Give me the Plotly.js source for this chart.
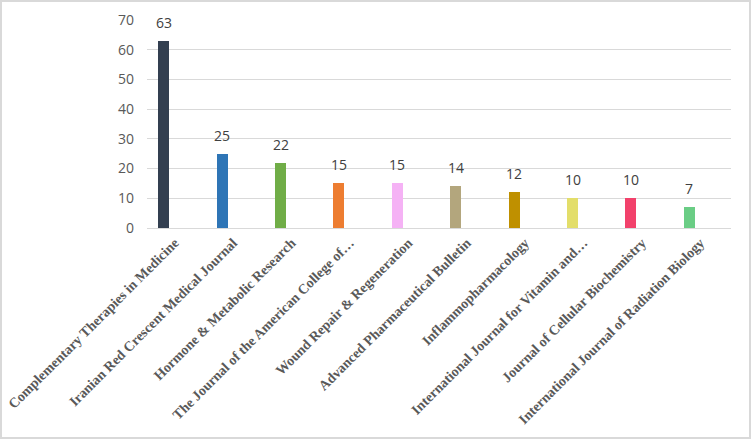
<!DOCTYPE html>
<html>
<head>
<meta charset="utf-8">
<script src="https://cdn.plot.ly/plotly-3.0.1.min.js"></script>
<style>
  html, body { margin: 0; padding: 0; background: #fff; }
  #chart { width: 751px; height: 439px; box-sizing: border-box; border: 2px solid #d9d9d9; }
</style>
</head>
<body>
<div id="chart"></div>
<script>
// Journals and publication counts
const journals = [
  "Complementary Therapies in Medicine",
  "Iranian Red Crescent Medical Journal",
  "Hormone & Metabolic Research",
  "The Journal of the American College of…",
  "Wound Repair & Regeneration",
  "Advanced Pharmaceutical Bulletin",
  "Inflammopharmacology",
  "International Journal for Vitamin and…",
  "Journal of Cellular Biochemistry",
  "International Journal of Radiation Biology"
];
const counts = [63, 25, 22, 15, 15, 14, 12, 10, 10, 7];
const barColors = [
  "#333f50", "#2e75b6", "#70ad47", "#ed7d31", "#f5b2f5",
  "#b3a67d", "#bf9000", "#e3de6a", "#f2416b", "#6acd85"
];
const yTicks = [0, 10, 20, 30, 40, 50, 60, 70];

const trace = {
  type: 'bar',
  x: journals,
  y: counts,
  width: 0.19,
  marker: { color: barColors },
  hoverinfo: 'x+y'
};

// value labels above each bar
const valueLabels = journals.map((j, i) => ({
  x: j,
  y: counts[i],
  text: String(counts[i]),
  showarrow: false,
  yanchor: 'bottom',
  yshift: 7,
  font: { family: 'Open Sans, sans-serif', size: 14, color: '#404040' }
}));

const layout = {
  width: 747,
  height: 435,
  margin: { t: 18, b: 209, l: 145, r: 18 },
  paper_bgcolor: '#fff',
  plot_bgcolor: '#fff',
  showlegend: false,
  bargap: 0,
  annotations: valueLabels,
  xaxis: {
    type: 'category',
    range: [-0.286, 9.714],
    tickangle: -45,
    automargin: false,
    showgrid: false,
    showline: false,
    zeroline: false,
    ticks: '',
    ticklabelshift: 11,
    ticklabelstandoff: 3,
    tickfont: { family: 'Liberation Serif, serif', size: 14, color: '#595959', weight: 'bold' }
  },
  yaxis: {
    range: [0, 70],
    tickvals: yTicks,
    automargin: false,
    showgrid: true,
    gridcolor: '#d9d9d9',
    gridwidth: 1,
    zeroline: true,
    zerolinecolor: '#d9d9d9',
    zerolinewidth: 1,
    showline: false,
    ticks: '',
    ticklabelstandoff: 12,
    tickfont: { family: 'Open Sans, sans-serif', size: 14, color: '#595959' }
  }
};

Plotly.newPlot('chart', [trace], layout, { displayModeBar: false, staticPlot: true });
</script>
</body>
</html>
